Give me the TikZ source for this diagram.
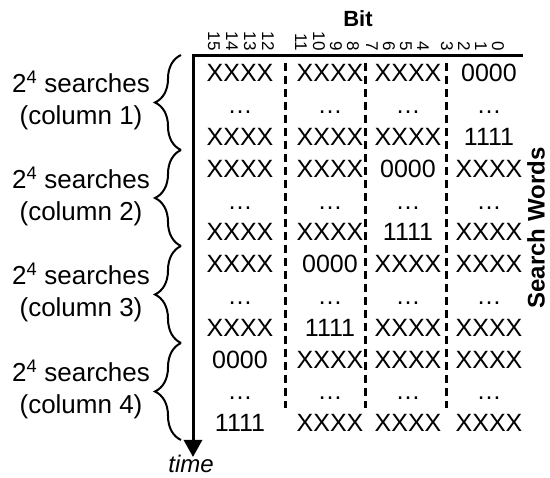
\documentclass[tikz,border=0pt]{standalone}
\usepackage{fontspec}
\setmainfont{Liberation Sans}
\usetikzlibrary{arrows.meta,decorations.pathreplacing}
\begin{document}
\begin{tikzpicture}[x=1pt,y=-1pt,
  cell/.style={inner sep=0pt, anchor=base, font=\fontsize{25}{30}\selectfont},
  bitno/.style={inner sep=0pt, rotate=-90, anchor=east, font=\fontsize{17}{20}\selectfont},
  grp/.style={align=center, inner sep=0pt, font=\fontsize{26}{32}\selectfont},
  brc/.style={decorate, decoration={brace, amplitude=26pt}, line width=2pt},
  sep/.style={dash pattern=on 8pt off 5pt, line width=3pt},
  axis/.style={line width=3pt, line join=miter}]
\useasboundingbox (0,0) rectangle (550,478);

% axes: bit axis along the top, time axis downwards
\coordinate (origin) at (193,56);
\coordinate (hend) at (523,56);
\coordinate (tend) at (193,457);
\draw[axis, -{Triangle[length=17pt,width=18pt]}] (hend) -- (origin) -- (tend);

% column separators
\foreach \x in {285,365,446}
  \draw[sep] (\x,63) -- (\x,408);

% headings
\node[anchor=base, inner sep=0pt, font=\bfseries\fontsize{22}{26}\selectfont] (bitlabel) at (358,27) {Bit};
\node[rotate=90, inner sep=0pt, font=\bfseries\fontsize{24}{28}\selectfont] (swlabel) at (536,228) {Search Words};
\node[inner sep=0pt, font=\itshape\fontsize{24}{28}\selectfont] (timelabel) at (191,464) {time};

% bit numbers
\foreach \b/\x in {15/214,14/232,13/250,12/268,11/301,10/319,9/336,8/353,7/372,6/389,5/406,4/423,3/447,2/464,1/481,0/498}
  \node[bitno] (bit\b) at (\x,51) {\b};

% search words
\foreach \r/\a/\b/\c/\d in {
  0/XXXX/XXXX/XXXX/0000,
  1/…/…/…/…,
  2/XXXX/XXXX/XXXX/1111,
  3/XXXX/XXXX/0000/XXXX,
  4/…/…/…/…,
  5/XXXX/XXXX/1111/XXXX,
  6/XXXX/0000/XXXX/XXXX,
  7/…/…/…/…,
  8/XXXX/1111/XXXX/XXXX,
  9/0000/XXXX/XXXX/XXXX,
  10/…/…/…/…,
  11/1111/XXXX/XXXX/XXXX}
{
  \node[cell] (w\r-1) at (240,{82+31.8*\r}) {\a};
  \node[cell] (w\r-2) at (330,{82+31.8*\r}) {\b};
  \node[cell] (w\r-3) at (408,{82+31.8*\r}) {\c};
  \node[cell] (w\r-4) at (489,{82+31.8*\r}) {\d};
}

% search groups
\foreach \i/\top/\bot in {1/55/150,2/150/246,3/246/343,4/343/440}
{
  \draw[brc] (181,\bot) -- (181,\top);
  \node[grp] (grp\i) at (81,{(\top+\bot)/2-2}) {2\textsuperscript{4} searches\\(column \i)};
}
\end{tikzpicture}
\end{document}
